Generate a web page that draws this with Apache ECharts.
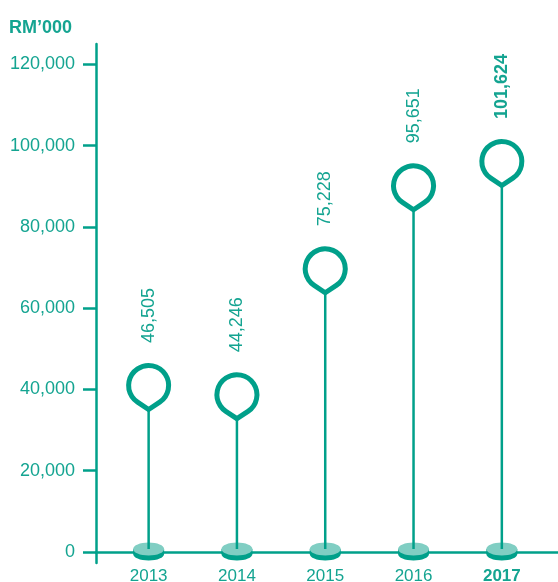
<!DOCTYPE html>
<html>
<head>
<meta charset="utf-8">
<script src="https://cdn.jsdelivr.net/npm/echarts@6/dist/echarts.min.js"></script>
<style>
html,body{margin:0;padding:0;background:#fff;}
#c{width:558px;height:582px;}
</style>
</head>
<body>
<div id="c"></div>
<script>
const years = ['2013', '2014', '2015', '2016', '2017'];
const values = [46505, 44246, 75228, 95651, 101624];
const yTicks = [0, 20000, 40000, 60000, 80000, 100000, 120000];
const highlightYear = '2017';

const TEAL = '#00a08a';
const TEXT = '#14a491';
const DISK = '#80cec3';

function fmt(v) { return String(v).replace(/\B(?=(\d{3})+(?!\d))/g, ','); }

const chart = echarts.init(document.getElementById('c'), null, {renderer: 'canvas'});

const option = {
  animation: false,
  title: {
    text: 'RM\u2019000', left: 9, top: 19, padding: 0,
    textStyle: {color: TEXT, fontSize: 18, fontWeight: 'bold', fontFamily: 'Liberation Sans, Arial, sans-serif'}
  },
  grid: {left: 96, right: 0, top: 44, bottom: 19, containLabel: false, outerBoundsMode: 'none'},
  xAxis: {
    type: 'value', min: -0.596, max: 4.636,
    splitLine: {show: false},
    axisLine: {show: true, onZero: true, lineStyle: {color: TEAL, width: 2.5}},
    axisTick: {show: false},
    axisLabel: {
      customValues: years.map((y, i) => i),
      margin: 5,
      formatter: function (v) {
        const y = years[Math.round(v)];
        if (y === undefined) return '';
        return y === highlightYear ? '{b|' + y + '}' : y;
      },
      color: TEXT, fontSize: 17, fontFamily: 'Liberation Sans, Arial, sans-serif',
      rich: {b: {fontWeight: 'bold', fontSize: 17, color: TEXT, fontFamily: 'Liberation Sans, Arial, sans-serif'}}
    }
  },
  yAxis: {
    type: 'value', min: -2700, max: 125000,
    splitLine: {show: false},
    axisLine: {show: true, onZero: false, lineStyle: {color: TEAL, width: 2.5}},
    axisTick: {show: true, inside: false, length: 13, customValues: yTicks, lineStyle: {color: TEAL, width: 2.5}},
    axisLabel: {
      customValues: yTicks, margin: 21,
      formatter: function (v) { return fmt(v); },
      color: TEXT, fontSize: 18, fontFamily: 'Liberation Sans, Arial, sans-serif'
    }
  },
  series: [{
    type: 'custom',
    data: values.map((v, i) => [i, v]),
    clip: false,
    renderItem: function (params, api) {
      const i = api.value(0);
      const v = api.value(1);
      const top = api.coord([i, v]);
      const base = api.coord([i, 0]);
      const cx = top[0];
      const r = 20, sw = 5, d = 24;
      const cy = top[1] + r + sw / 2;
      const cosT = r / d, sinT = Math.sqrt(1 - cosT * cosT);
      const tx = r * sinT, ty = r * cosT;
      const tipY = cy + d;
      const pathData = 'M' + cx + ' ' + tipY +
        ' L' + (cx + tx) + ' ' + (cy + ty) +
        ' A' + r + ' ' + r + ' 0 1 0 ' + (cx - tx) + ' ' + (cy + ty) + ' Z';
      const diskY = base[1] - 3;
      const bold = years[i] === highlightYear;
      return {
        type: 'group',
        children: [
          {type: 'ellipse', shape: {cx: cx, cy: diskY + 5, rx: 15.5, ry: 6.5}, style: {fill: TEAL}},
          {type: 'rect', shape: {x: cx - 15.5, y: diskY, width: 31, height: 5}, style: {fill: TEAL}},
          {type: 'ellipse', shape: {cx: cx, cy: diskY, rx: 15.5, ry: 6.5}, style: {fill: DISK}},
          {type: 'line', shape: {x1: cx, y1: tipY, x2: cx, y2: diskY}, style: {stroke: TEAL, lineWidth: 2.5}},
          {type: 'path', shape: {pathData: pathData},
            style: {fill: '#fff', stroke: TEAL, lineWidth: sw, lineJoin: 'miter'}},
          {type: 'text', x: cx, y: top[1] - 20, rotation: Math.PI / 2,
            style: {text: fmt(v), align: 'left', verticalAlign: 'middle',
              fill: TEXT, fontSize: 18, fontWeight: bold ? 'bold' : 'normal',
              fontFamily: 'Liberation Sans, Arial, sans-serif'}}
        ]
      };
    }
  }]
};
chart.setOption(option);
</script>
</body>
</html>
